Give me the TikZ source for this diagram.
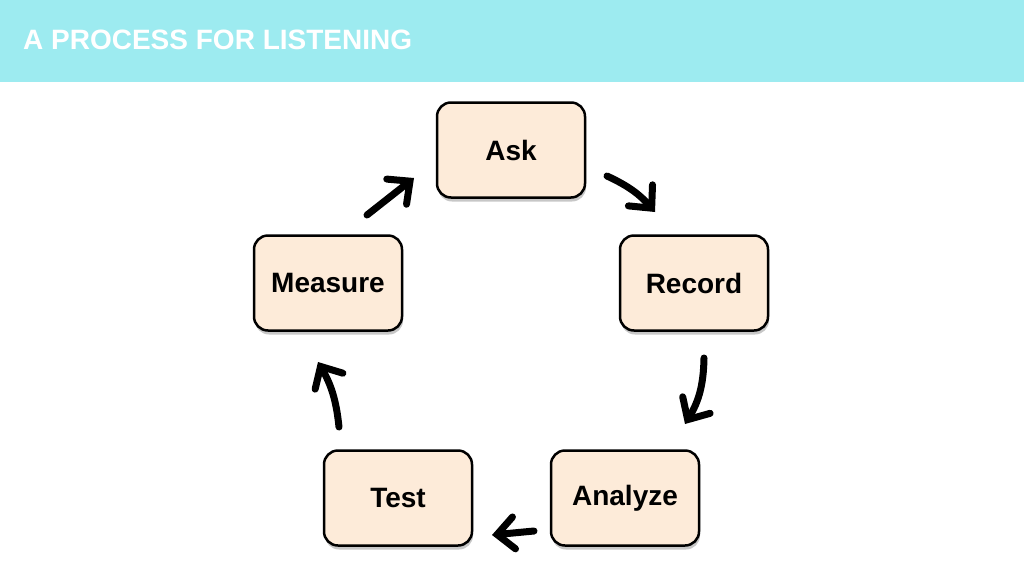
\documentclass[tikz,border=0pt]{standalone}
\usepackage{fontspec}
\setmainfont{Liberation Sans}
\usetikzlibrary{arrows.meta,shadows}
\definecolor{band}{HTML}{9DEBF0}
\definecolor{boxfill}{HTML}{FDEBD9}
\tikzset{
  stepbox/.style={draw=black, line width=2.5pt, fill=boxfill, rounded corners=14pt,
    minimum width=148pt, minimum height=95pt, font=\fontsize{28}{32}\selectfont\bfseries,
    drop shadow={shadow xshift=1pt, shadow yshift=-4pt, fill=black, opacity=0.22}},
  arr/.style={line width=7pt, line cap=round,
    -{Straight Barb[length=17pt, width=32pt, line width=7pt, line cap=round]}},
  title/.style={font=\fontsize{28}{32}\selectfont\bfseries, text=white, anchor=base west, inner sep=0pt}
}
\begin{document}
\begin{tikzpicture}[x=1pt,y=1pt]
\useasboundingbox (0,0) rectangle (1024,-573);
\fill[white] (0,0) rectangle (1024,-573);
\fill[band] (0,0) rectangle (1024,-82);
\node[title] (ttl) at (23,-49) {A PROCESS FOR LISTENING};
\node[stepbox] (ask) at (511,-150) {Ask};
\node[stepbox] (record) at (694,-283) {Record};
\node[stepbox] (analyze) at (625,-498) {Analyze};
\node[stepbox] (test) at (398,-498) {Test};
\node[stepbox] (measure) at (328,-283) {Measure};
\coordinate (a1s) at (607,-176);
\coordinate (a1e) at (655,-212);
\coordinate (a2s) at (704,-358);
\coordinate (a2e) at (685,-424);
\coordinate (a3s) at (534,-531);
\coordinate (a3e) at (492,-535);
\coordinate (a4s) at (339,-427);
\coordinate (a4e) at (318,-362);
\coordinate (a5s) at (367,-215);
\coordinate (a5e) at (414,-178);
\draw[arr] (a1s) to[bend left=12] (a1e);
\draw[arr] (a2s) to[bend left=15] (a2e);
\draw[arr] (a3s) to (a3e);
\draw[arr] (a4s) to[bend right=12] (a4e);
\draw[arr] (a5s) to (a5e);
\end{tikzpicture}
\end{document}
